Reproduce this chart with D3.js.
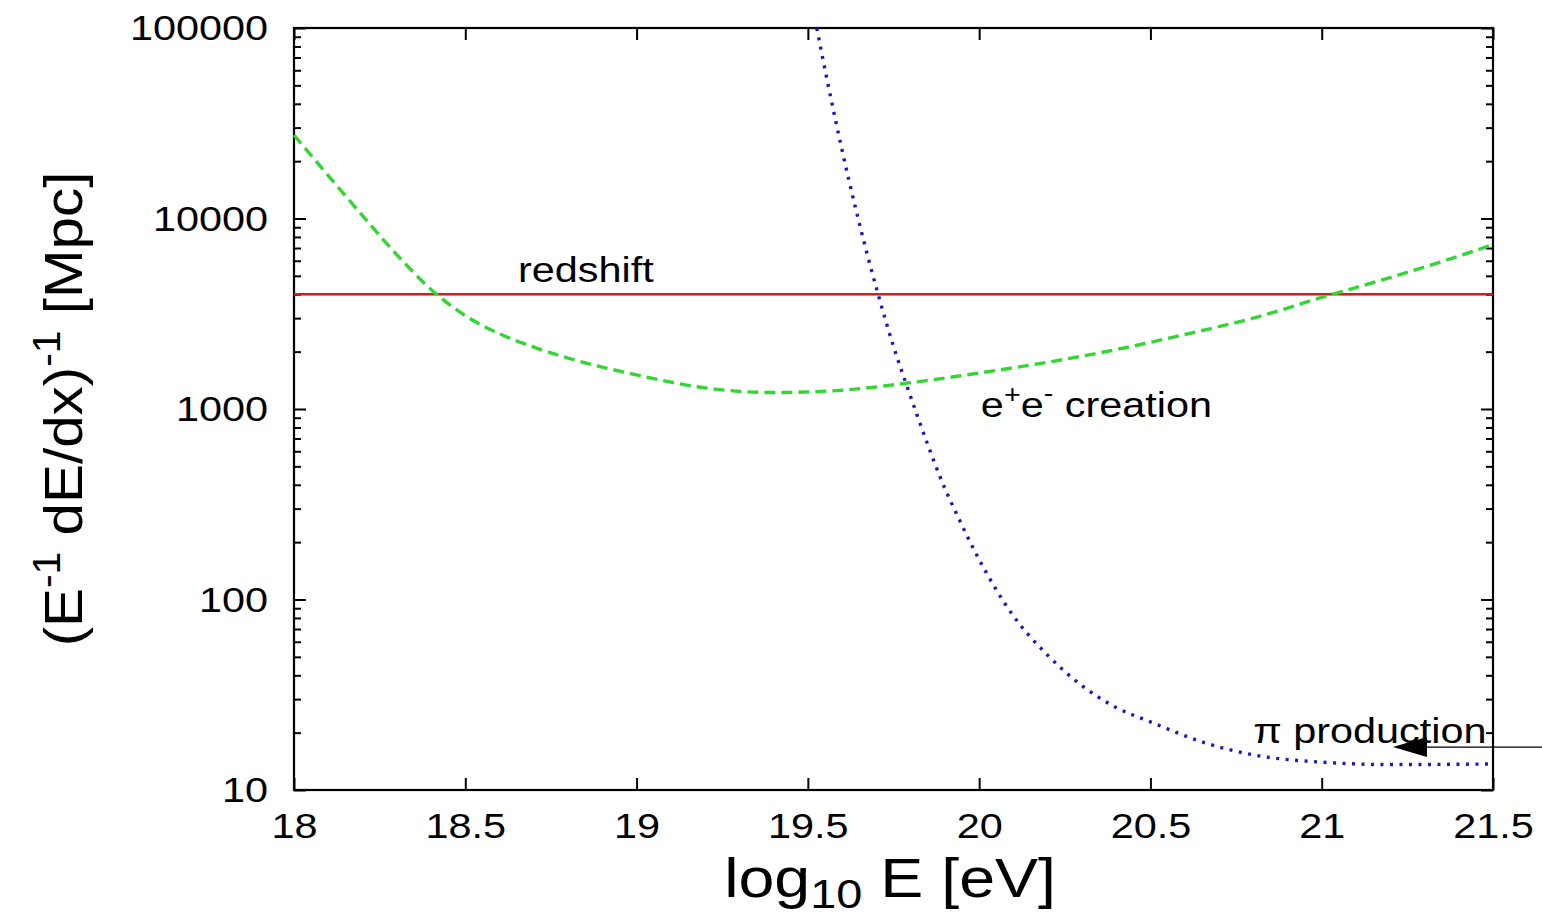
<!DOCTYPE html>
<html>
<head>
<meta charset="utf-8">
<script src="https://cdn.jsdelivr.net/npm/d3@7"></script>
<style>
  html, body { margin: 0; padding: 0; background: #fff; }
  svg { display: block; font-family: "Liberation Sans", Arial, Helvetica, sans-serif; }
</style>
</head>
<body>
<div id="chart"></div>
<script>
// --- data ---
const xTicks = [18, 18.5, 19, 19.5, 20, 20.5, 21, 21.5];
const yTicks = [10, 100, 1000, 10000, 100000];

const redshiftE = [18, 21.5];
const redshiftVal = [4000, 4000];

const pairE   = [18.0, 18.1, 18.2, 18.3, 18.4, 18.5, 18.6, 18.7, 18.8, 18.9, 19.0, 19.2, 19.4, 19.6, 19.8, 20.0, 20.2, 20.4, 20.6, 20.8, 21.0, 21.2, 21.4, 21.5];
const pairVal = [27400, 16800, 10350, 6460, 4240, 3090, 2480, 2110, 1850, 1660, 1510, 1290, 1220, 1255, 1375, 1545, 1760, 2050, 2460, 3000, 3850, 4900, 6350, 7300];

const pionE   = [19.526, 19.56, 19.6, 19.64, 19.676, 19.706, 19.75, 19.788, 19.85, 19.886, 19.95, 20.0, 20.1, 20.2, 20.3, 20.4, 20.5, 20.65, 20.8, 21.0, 21.2, 21.5];
const pionVal = [100000, 49400, 22800, 11200, 6220, 3950, 2130, 1340, 650, 440, 245, 162, 82, 51, 35.3, 27.1, 22.8, 17.9, 15.3, 14.0, 13.6, 13.7];

const W = 1542, H = 917;
const margin = { top: 28, right: 49, bottom: 127, left: 294 };
const iw = W - margin.left - margin.right;
const ih = H - margin.top - margin.bottom;

const svg = d3.select('#chart').append('svg')
  .attr('width', W).attr('height', H)
  .attr('viewBox', `0 0 ${W} ${H}`);

const g = svg.append('g').attr('transform', `translate(${margin.left},${margin.top})`);

const x = d3.scaleLinear().domain([18, 21.5]).range([0, iw]);
const y = d3.scaleLog().domain([10, 100000]).range([ih, 0]);

// minor ticks on y (2..9 per decade)
const yMinor = [];
for (let d = 10; d < 100000; d *= 10) for (let k = 2; k <= 9; k++) yMinor.push(d * k);

const tickFont = 36;
const stretch = 1.15;   // the original picture is a bit wider than tall

// axes: bottom / top / left / right, ticks pointing inward
g.append('g').attr('transform', `translate(0,${ih})`)
  .call(d3.axisBottom(x).tickValues(xTicks).tickSize(-12).tickPadding(22).tickFormat(d3.format('')))
  .call(s => s.selectAll('text').attr('font-size', tickFont).attr('dy', '0.71em')
    .attr('transform', `scale(${stretch},1)`));
g.append('g')
  .call(d3.axisTop(x).tickValues(xTicks).tickSize(-12).tickFormat(''));
g.append('g')
  .call(d3.axisLeft(y).tickValues(yTicks).tickSize(-12).tickFormat(d3.format('')))
  .call(s => s.selectAll('text').attr('font-size', tickFont)
    .attr('x', -26 / stretch).attr('transform', `scale(${stretch},1)`));
g.append('g')
  .call(d3.axisLeft(y).tickValues(yMinor).tickSize(-7).tickFormat(''));
g.append('g').attr('transform', `translate(${iw},0)`)
  .call(d3.axisRight(y).tickValues(yTicks).tickSize(-12).tickFormat(''));
g.append('g').attr('transform', `translate(${iw},0)`)
  .call(d3.axisRight(y).tickValues(yMinor).tickSize(-7).tickFormat(''));

g.selectAll('.domain').remove();
g.selectAll('.tick line').attr('stroke', '#000').attr('stroke-width', 2);
g.selectAll('.tick text').attr('fill', '#000').attr('font-family', '"Liberation Sans", Arial, sans-serif');

// frame
g.append('rect').attr('width', iw).attr('height', ih)
  .attr('fill', 'none').attr('stroke', '#000').attr('stroke-width', 2.2);

const line = d3.line().x(d => x(d[0])).y(d => y(d[1])).curve(d3.curveMonotoneX);
const plot = g.append('g');

plot.append('path').datum(d3.zip(redshiftE, redshiftVal))
  .attr('d', line).attr('fill', 'none').attr('stroke', '#e8141c').attr('stroke-width', 2.4);

plot.append('path').datum(d3.zip(pairE, pairVal))
  .attr('d', line).attr('fill', 'none').attr('stroke', '#33d633').attr('stroke-width', 3.4)
  .attr('stroke-dasharray', '11,6');

plot.append('path').datum(d3.zip(pionE, pionVal))
  .attr('d', line).attr('fill', 'none').attr('stroke', '#1c1cb4').attr('stroke-width', 3.4)
  .attr('stroke-dasharray', '3,6.5');

// annotations (stretched horizontally like the original)
const ann = g.append('g').attr('fill', '#000').attr('font-size', 36);
const place = (e, v, dy) => `translate(${x(e)},${y(v) + dy}) scale(${stretch},1)`;

ann.append('text').attr('transform', place(18.654, 4000, -12)).text('redshift');

const ee = ann.append('text').attr('transform', place(20.005, 1000, 8));
ee.append('tspan').text('e');
ee.append('tspan').attr('dy', -14).attr('font-size', 25).text('+');
ee.append('tspan').attr('dy', 14).text('e');
ee.append('tspan').attr('dy', -15).attr('font-size', 25).text('-');
ee.append('tspan').attr('dy', 15).text(' creation');

ann.append('text').attr('transform', place(20.8, 17.6, 0)).text('π production');

// arrow pointing at the pion curve
const arrowY = y(16.8);
g.append('line')
  .attr('x1', x(21.643)).attr('y1', arrowY)
  .attr('x2', x(21.25)).attr('y2', arrowY)
  .attr('stroke', '#000').attr('stroke-width', 1.2);
g.append('path')
  .attr('d', `M${x(21.208)},${arrowY} l34,-10 l0,20 Z`)
  .attr('fill', '#000');

// axis titles
const xl = svg.append('text')
  .attr('transform', `translate(${margin.left + x(19.74)},897) scale(${stretch * 1.02},1)`)
  .attr('text-anchor', 'middle').attr('font-size', 55).attr('fill', '#000');
xl.append('tspan').text('log');
xl.append('tspan').attr('dy', 11).attr('font-size', 40).text('10');
xl.append('tspan').attr('dy', -11).text(' E [eV]');

const yl = svg.append('text')
  .attr('transform', `translate(82,${margin.top + y(1000)}) rotate(-90) scale(1.08,1)`)
  .attr('text-anchor', 'middle').attr('font-size', 54).attr('fill', '#000');
yl.append('tspan').text('(E');
yl.append('tspan').attr('dy', -22).attr('font-size', 38).text('-1');
yl.append('tspan').attr('dy', 22).text(' dE/dx)');
yl.append('tspan').attr('dy', -22).attr('font-size', 38).text('-1');
yl.append('tspan').attr('dy', 22).text('  [Mpc]');
</script>
</body>
</html>
